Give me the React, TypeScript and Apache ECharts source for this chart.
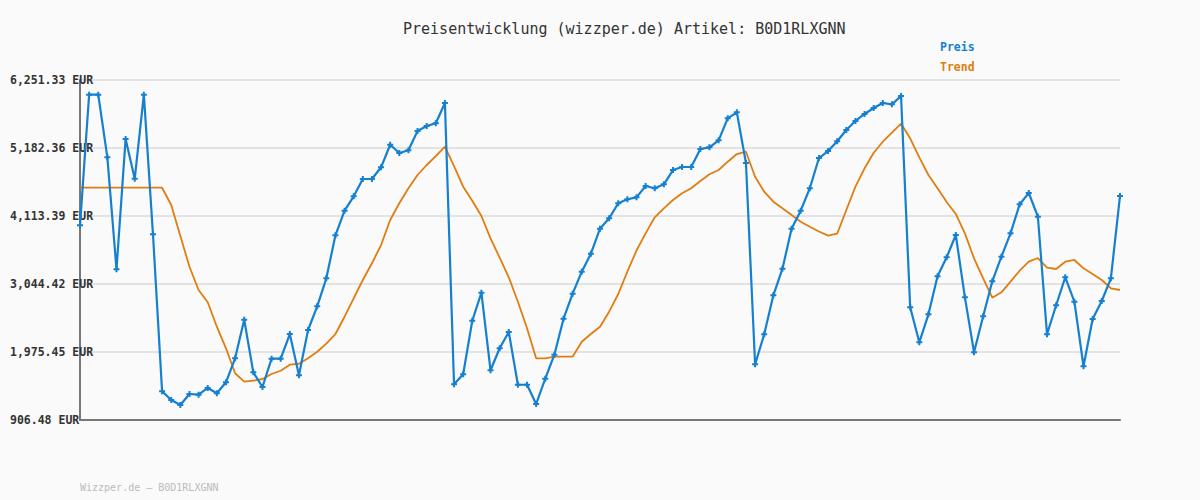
import React, { useEffect, useRef } from "react";
import * as echarts from "echarts";

const title = "Preisentwicklung (wizzper.de) Artikel: B0D1RLXGNN";
const footer = "Wizzper.de – B0D1RLXGNN";

const yMin = 906.48;
const yMax = 6251.33;
const yTickLabels = ["906.48", "1,975.45", "3,044.42", "4,113.39", "5,182.36", "6,251.33"];

const preis = [
  3967, 6020, 6020, 5036, 3275, 5324, 4700, 6020, 3826, 1357,
  1221, 1142, 1315, 1304, 1410, 1326, 1499, 1876, 2483, 1656,
  1425, 1870, 1870, 2258, 1609, 2321, 2694, 3134, 3810, 4197,
  4423, 4695, 4695, 4879, 5234, 5104, 5146, 5450, 5528, 5571,
  5890, 1468, 1625, 2467, 2908, 1688, 2034, 2290, 1461, 1461,
  1158, 1556, 1933, 2499, 2892, 3238, 3521, 3914, 4077, 4313,
  4376, 4407, 4585, 4549, 4612, 4836, 4884, 4884, 5167, 5193,
  5303, 5649, 5743, 4946, 1782, 2254, 2867, 3285, 3914, 4197,
  4549, 5025, 5135, 5288, 5465, 5607, 5717, 5811, 5890, 5869,
  6000, 2678, 2128, 2568, 3165, 3464, 3815, 2835, 1971, 2537,
  3087, 3474, 3841, 4297, 4475, 4102, 2254, 2710, 3150, 2766,
  1751, 2494, 2777, 3134, 4428,
];

const trend = [
  4558, 4558, 4558, 4558, 4558, 4558, 4558, 4558, 4558, 4558,
  4286, 3799, 3316, 2950, 2757, 2373, 2034, 1641, 1509, 1524,
  1551, 1630, 1681, 1776, 1791, 1876, 1980, 2106, 2258, 2530,
  2820, 3107, 3370, 3657, 4050, 4313, 4549, 4758, 4915, 5056,
  5203, 4899, 4574, 4354, 4113, 3763, 3458, 3150, 2766, 2348,
  1876, 1876, 1902, 1902, 1902, 2137, 2258, 2373, 2609, 2887,
  3238, 3571, 3841, 4093, 4234, 4365, 4470, 4549, 4664, 4769,
  4836, 4967, 5088, 5124, 4731, 4495, 4338, 4234, 4129, 4024,
  3945, 3870, 3804, 3835, 4208, 4574, 4863, 5108, 5281, 5423,
  5564, 5335, 5036, 4758, 4549, 4333, 4145, 3841, 3448, 3134,
  2829, 2914, 3081, 3253, 3395, 3453, 3301, 3280, 3395, 3422,
  3291, 3202, 3107, 2977, 2950,
];

const categories = preis.map((_, i) => String(i + 1));

const BLUE = "#1580cf";
const ORANGE = "#e07d10";
const MONO = "'DejaVu Sans Mono', monospace";

export default function App() {
  const ref = useRef<HTMLDivElement>(null);
  useEffect(() => {
    if (!ref.current) return;
    const chart = echarts.init(ref.current, null, { renderer: "svg" });
    chart.setOption({
      animation: false,
      backgroundColor: "#fafafa",
      title: {
        text: title,
        left: 398,
        top: 16,
        textStyle: { fontFamily: MONO, fontSize: 15, fontWeight: "normal", color: "#333" },
      },
      legend: {
        orient: "vertical",
        left: 930,
        top: 36,
        itemWidth: 0,
        itemHeight: 12,
        itemGap: 8,
        icon: "none",
        selectedMode: false,
        textStyle: { fontFamily: MONO, fontSize: 11.5, fontWeight: "bold" },
        data: [
          { name: "Preis", textStyle: { color: BLUE } },
          { name: "Trend", textStyle: { color: ORANGE } },
        ],
      },
      graphic: [
        {
          type: "text",
          left: 80,
          top: 482,
          style: { text: footer, fontFamily: MONO, fontSize: 10, fill: "#bbbbbb" },
        },
      ],
      grid: { left: 80, right: 80, top: 80, bottom: 80 },
      xAxis: {
        type: "category",
        data: categories,
        boundaryGap: false,
        axisLine: { lineStyle: { color: "#777", width: 2 } },
        axisTick: { show: false },
        axisLabel: { show: false },
        splitLine: { show: false },
      },
      yAxis: [
        {
          type: "value",
          min: 0,
          max: yTickLabels.length - 1,
          interval: 1,
          axisLine: { show: true, lineStyle: { color: "#777", width: 2 } },
          axisTick: { show: false },
          splitLine: { lineStyle: { color: "#e3e3e3", width: 2 } },
          axisLabel: {
            margin: 70,
            align: "left",
            fontFamily: MONO,
            fontSize: 11.5,
            fontWeight: "bold",
            color: "#333",
            formatter: (v: number) => yTickLabels[Math.round(v)] + " EUR",
          },
        },
        {
          type: "value",
          min: yMin,
          max: yMax,
          show: false,
          splitLine: { show: false },
        },
      ],
      series: [
        {
          name: "Preis",
          type: "line",
          yAxisIndex: 1,
          data: preis,
          symbol: "path://M2,0 H4 V2 H6 V4 H4 V6 H2 V4 H0 V2 H2 Z",
          symbolSize: 6,
          showSymbol: true,
          itemStyle: { color: BLUE },
          lineStyle: { color: BLUE, width: 2.2 },
          z: 3,
        },
        {
          name: "Trend",
          type: "line",
          yAxisIndex: 1,
          data: trend,
          symbol: "none",
          itemStyle: { color: ORANGE },
          lineStyle: { color: ORANGE, width: 1.8 },
          z: 2,
        },
      ],
    });
    return () => chart.dispose();
  }, []);
  return (
    <div
      ref={ref}
      style={{ position: "fixed", left: 0, top: 0, width: 1200, height: 500 }}
    />
  );
}
